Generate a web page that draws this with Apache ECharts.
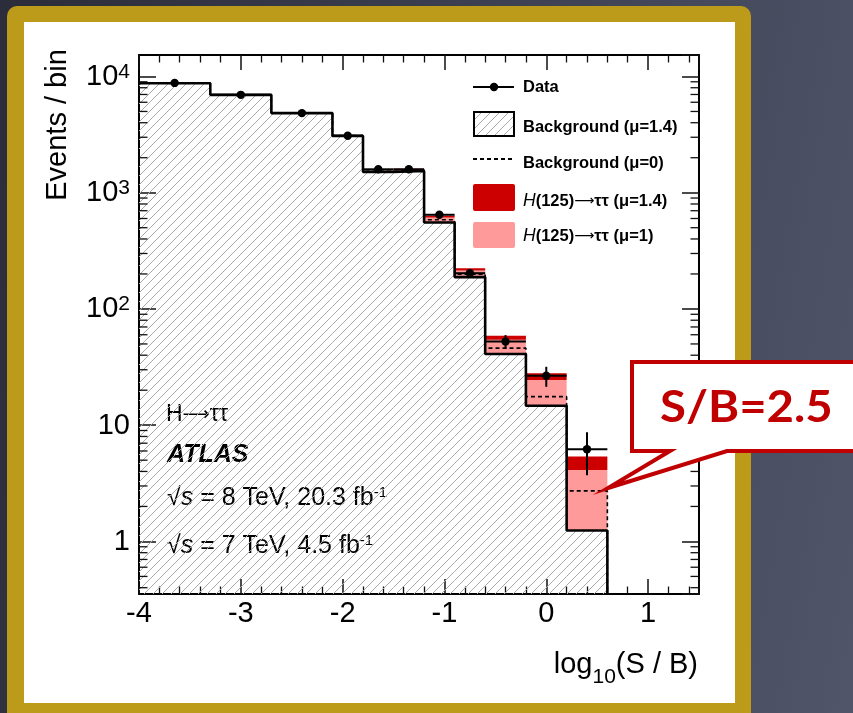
<!DOCTYPE html>
<html>
<head>
<meta charset="utf-8">
<script src="https://cdn.jsdelivr.net/npm/echarts@6/dist/echarts.min.js"></script>
<style>
  html, body { margin: 0; padding: 0; }
  body {
    width: 853px; height: 713px; overflow: hidden; position: relative;
    background: linear-gradient(100deg, #2c2d3b 0%, #3b3e4e 45%, #50556a 100%);
  }
  #frame { position: absolute; left: 7px; top: 6px; width: 744px; height: 720px;
           background: #bd9b1a; border-radius: 10px; }
  #panel { position: absolute; left: 24px; top: 22px; width: 711px; height: 681px; background: #fff; }
  #chart { position: absolute; left: 0; top: 0; width: 853px; height: 713px; }
</style>
</head>
<body>
<div id="frame"></div>
<div id="panel"></div>
<div id="chart"></div>
<script>
// Bin edges in log10(S/B)
const binEdges = [-4, -3.3, -2.7, -2.1, -1.8, -1.5, -1.2, -0.9, -0.6, -0.2, 0.2, 0.6];
// Background with the fitted signal strength (mu = 1.4)
const bkgFit = [8750, 6950, 4840, 3080, 1510, 1540, 554, 188, 41.0, 14.7, 1.24];
// Background from the fit with mu = 0
const bkgNull = [8760, 6955, 4848, 3095, 1525, 1570, 585, 199.5, 46.0, 17.6, 2.72];
// Expected H(125)->tautau signal, mu = 1
const sigMu1 = [1.4, 5, 14, 25, 24, 50, 57, 26, 13.2, 9.8, 2.88];
// Expected H(125)->tautau signal, mu = 1.4
const sigMu14 = [2.0, 7, 19.5, 35, 34, 70, 80, 36, 17.7, 13.3, 4.13];
// Observed events and their uncertainties
const dataObs = [8800, 6950, 4840, 3090, 1590, 1590, 646, 203, 52.4, 26.6, 6.21];
const dataErr = [94, 83, 70, 56, 40, 40, 25, 14.2, 7.2, 5.2, 2.5];
// Axis ticks and labels
const xTickLabels = { '-4': '-4', '-3': '-3', '-2': '-2', '-1': '-1', '0': '0', '1': '1' };
const yTickLabels = ['{b|1}', '{b|10}', '{b|10}{sup|2}', '{b|10}{sup|3}', '{b|10}{sup|4}'];

const X_MIN = -4, X_MAX = 1.5;
const Y_MIN = 0.353, Y_MAX = 15300;
const FONT = '"Liberation Sans", Arial, Helvetica, sans-serif';
const ARROW_FONT = '"DejaVu Sans", sans-serif';

function makeHatch() {
  const s = 9;
  const c = document.createElement('canvas');
  c.width = s; c.height = s;
  const g = c.getContext('2d');
  g.strokeStyle = '#a9a9a9';
  g.lineWidth = 1;
  g.beginPath();
  g.moveTo(0, s); g.lineTo(s, 0);
  g.moveTo(-1, 1); g.lineTo(1, -1);
  g.moveTo(s - 1, s + 1); g.lineTo(s + 1, s - 1);
  g.stroke();
  return c;
}
const hatchFill = { image: makeHatch(), repeat: 'repeat' };

const nBins = bkgFit.length;
const idx = Array.from({ length: nBins }, (_, i) => i);

// Minor tick positions for the logarithmic axis
const logMinor = [];
for (let d = -1; d <= 4; d++) {
  for (let m = 2; m <= 9; m++) {
    const v = m * Math.pow(10, d);
    if (v > Y_MIN && v < Y_MAX) logMinor.push(v);
  }
}

function rectItem(fill) {
  return function (params, api) {
    const a = api.coord([api.value(0), api.value(3)]);
    const b = api.coord([api.value(1), api.value(2)]);
    return {
      type: 'rect',
      shape: { x: a[0], y: a[1], width: b[0] - a[0], height: b[1] - a[1] },
      style: { fill: fill }
    };
  };
}

function stepData(values, dropTo) {
  const pts = binEdges.map((e, i) => [e, values[Math.min(i, nBins - 1)]]);
  pts.push([binEdges[nBins], dropTo]);
  return pts;
}

const axisCommonX = {
  type: 'value', min: X_MIN, max: X_MAX, interval: 1,
  axisLine: { show: true, onZero: false, lineStyle: { color: '#000', width: 2 } },
  axisTick: { show: true, inside: true, length: 15, lineStyle: { color: '#111', width: 1.5 } },
  minorTick: { show: true, splitNumber: 5, length: 7.5, lineStyle: { color: '#111', width: 1.3 } },
  splitLine: { show: false }
};
const axisCommonY = {
  type: 'log', logBase: 10, min: Y_MIN, max: Y_MAX,
  axisLine: { show: true, onZero: false, lineStyle: { color: '#000', width: 2 } },
  axisTick: { show: true, inside: true, length: 17, lineStyle: { color: '#111', width: 1.5 } },
  splitLine: { show: false }
};

const legendText = (text, y) => ({
  type: 'text', x: 523, y: y,
  style: {
    text: text, fontFamily: FONT, fontWeight: 'bold', fontSize: 16.5, fill: '#000', verticalAlign: 'middle',
    rich: {
      i: { fontFamily: FONT, fontStyle: 'italic', fontWeight: 'normal', fontSize: 17.5 },
      a: { fontFamily: ARROW_FONT, fontSize: 14 }
    }
  }
});

const energyText = (text, y) => ({
  type: 'text', x: 167, y: y,
  style: {
    text: text, fontFamily: FONT, fontSize: 25, fill: '#000', verticalAlign: 'middle',
    rich: {
      i: { fontFamily: FONT, fontSize: 25, fontStyle: 'italic' },
      sup: { fontFamily: FONT, fontSize: 15, lineHeight: 15, padding: [0, 0, 15, 0], verticalAlign: 'top' }
    }
  }
});

const chart = echarts.init(document.getElementById('chart'), null, { renderer: 'canvas' });

const option = {
  animation: false,
  backgroundColor: 'transparent',
  grid: { left: 139, top: 55, width: 560, height: 539 },
  xAxis: [
    Object.assign({}, axisCommonX, {
      position: 'bottom',
      axisLabel: {
        color: '#000', fontFamily: FONT, fontSize: 29, margin: 5,
        showMaxLabel: false,
        formatter: v => xTickLabels[String(Math.round(v))] || ''
      }
    }),
    Object.assign({}, axisCommonX, { position: 'top', axisLabel: { show: false } })
  ],
  yAxis: [
    Object.assign({}, axisCommonY, {
      position: 'left',
      axisLabel: {
        color: '#000', fontFamily: FONT, margin: 9,
        showMinLabel: false, showMaxLabel: false,
        formatter: v => yTickLabels[Math.round(Math.log10(v))] || '',
        rich: {
          b: { fontFamily: FONT, fontSize: 29, lineHeight: 30, verticalAlign: 'bottom', color: '#000' },
          sup: { fontFamily: FONT, fontSize: 21, lineHeight: 21, padding: [0, 0, 15, 0], verticalAlign: 'top', color: '#000' }
        }
      }
    }),
    Object.assign({}, axisCommonY, { position: 'right', axisLabel: { show: false } })
  ],
  series: [
    {
      name: 'Background (mu=1.4)', type: 'custom', clip: true, z: 2,
      renderItem: rectItem(hatchFill),
      data: idx.map(i => [binEdges[i], binEdges[i + 1], Y_MIN, bkgFit[i]])
    },
    {
      name: 'H(125) mu=1', type: 'custom', clip: true, z: 3,
      renderItem: rectItem('#ff9a9a'),
      data: idx.map(i => [binEdges[i], binEdges[i + 1], bkgFit[i], bkgFit[i] + sigMu1[i]])
    },
    {
      name: 'H(125) mu=1.4', type: 'custom', clip: true, z: 3,
      renderItem: rectItem('#cc0000'),
      data: idx.map(i => [binEdges[i], binEdges[i + 1], bkgFit[i] + sigMu1[i], bkgFit[i] + sigMu14[i]])
    },
    {
      name: 'Background (mu=0)', type: 'line', step: 'end', showSymbol: false, clip: true, z: 4,
      lineStyle: { color: '#000', width: 1.6, type: [4, 3] },
      data: stepData(bkgNull, Y_MIN)
    },
    {
      name: 'Background outline', type: 'line', step: 'end', showSymbol: false, clip: true, z: 5,
      lineStyle: { color: '#000', width: 2.6 },
      data: stepData(bkgFit, Y_MIN)
    },
    {
      name: 'Data', type: 'custom', clip: true, z: 6,
      renderItem: function (params, api) {
        const v = api.value(1), err = api.value(2);
        const c = api.coord([api.value(0), v]);
        const l = api.coord([api.value(3), v]);
        const r = api.coord([api.value(4), v]);
        const hi = api.coord([api.value(0), v + err]);
        const lo = api.coord([api.value(0), v - err]);
        const ls = { stroke: '#000', lineWidth: 2 };
        return {
          type: 'group',
          children: [
            { type: 'line', shape: { x1: l[0], y1: l[1], x2: r[0], y2: r[1] }, style: ls },
            { type: 'line', shape: { x1: c[0], y1: hi[1], x2: c[0], y2: lo[1] }, style: ls },
            { type: 'circle', shape: { cx: c[0], cy: c[1], r: 4.2 }, style: { fill: '#000' } }
          ]
        };
      },
      data: idx.map(i => [(binEdges[i] + binEdges[i + 1]) / 2, dataObs[i], dataErr[i], binEdges[i], binEdges[i + 1]])
    },
    {
      name: 'log minor ticks', type: 'custom', clip: false, z: 7, silent: true,
      renderItem: function (params, api) {
        const y = api.coord([X_MIN, api.value(1)])[1];
        const cs = params.coordSys;
        const st = { stroke: '#111', lineWidth: 1.3 };
        return {
          type: 'group',
          children: [
            { type: 'line', shape: { x1: cs.x, y1: y, x2: cs.x + 8.5, y2: y }, style: st },
            { type: 'line', shape: { x1: cs.x + cs.width - 8.5, y1: y, x2: cs.x + cs.width, y2: y }, style: st }
          ]
        };
      },
      data: logMinor.map(v => [X_MIN, v])
    }
  ],
  graphic: [
    // axis titles
    {
      type: 'text', x: 58, y: 125, rotation: Math.PI / 2, z: 10,
      style: { text: 'Events / bin', fontFamily: FONT, fontSize: 29, fill: '#000', align: 'center', verticalAlign: 'middle' }
    },
    {
      type: 'text', x: 698, y: 650, z: 10,
      style: {
        text: '{m|log}{sub|10}{m|(S / B)}', fill: '#000', align: 'right', verticalAlign: 'top',
        rich: {
          m: { fontFamily: FONT, fontSize: 29, lineHeight: 30, verticalAlign: 'top' },
          sub: { fontFamily: FONT, fontSize: 21, lineHeight: 21, padding: [17, 0, 0, 0], verticalAlign: 'top' }
        }
      }
    },
    // legend
    {
      type: 'group', z: 10,
      children: [
        { type: 'line', shape: { x1: 473, y1: 87, x2: 514, y2: 87 }, style: { stroke: '#000', lineWidth: 2 } },
        { type: 'circle', shape: { cx: 494, cy: 87, r: 4.2 }, style: { fill: '#000' } },
        { type: 'rect', shape: { x: 474, y: 112, width: 40, height: 24 }, style: { fill: hatchFill, stroke: '#000', lineWidth: 2 } },
        { type: 'line', shape: { x1: 473, y1: 159, x2: 515, y2: 159 }, style: { stroke: '#000', lineWidth: 1.8, lineDash: [4, 3] } },
        { type: 'rect', shape: { x: 473, y: 184, width: 42, height: 27, r: 2 }, style: { fill: '#cc0000' } },
        { type: 'rect', shape: { x: 473, y: 222, width: 42, height: 26, r: 2 }, style: { fill: '#ff9a9a' } },
        legendText('Data', 87),
        legendText('Background (μ=1.4)', 127),
        legendText('Background (μ=0)', 163),
        legendText('{i|H}(125){a|⟶}ττ (μ=1.4)', 201),
        legendText('{i|H}(125){a|⟶}ττ (μ=1)', 236)
      ]
    },
    // analysis labels
    {
      type: 'group', z: 10,
      children: [
        {
          type: 'text', x: 166, y: 415,
          style: {
            text: 'H{a|⟶}ττ', fontFamily: FONT, fontSize: 23, fill: '#000', verticalAlign: 'middle',
            rich: { a: { fontFamily: ARROW_FONT, fontSize: 19 } }
          }
        },
        { type: 'text', x: 167, y: 455, style: { text: 'ATLAS', fontFamily: FONT, fontSize: 25, fontWeight: 'bold', fontStyle: 'italic', fill: '#000', verticalAlign: 'middle' } },
        energyText('√{i|s} = 8 TeV, 20.3 fb{sup|-1}', 498),
        energyText('√{i|s} = 7 TeV, 4.5 fb{sup|-1}', 546)
      ]
    },
    // callout
    {
      type: 'polygon', z: 20,
      shape: { points: [[632, 362], [870, 362], [870, 451], [727, 451], [608, 488], [670, 451], [632, 451]] },
      style: { fill: '#fff', stroke: '#c00000', lineWidth: 4, lineJoin: 'miter' }
    },
    {
      type: 'text', x: 660, y: 408, z: 21, scaleX: 1.1, originX: 0, originY: 0,
      style: { text: 'S/B=2.5', fontFamily: 'Lato, "Open Sans", sans-serif', fontWeight: 'bold', fontSize: 43, fill: '#c00000', verticalAlign: 'middle' }
    }
  ]
};

chart.setOption(option);
</script>
</body>
</html>
